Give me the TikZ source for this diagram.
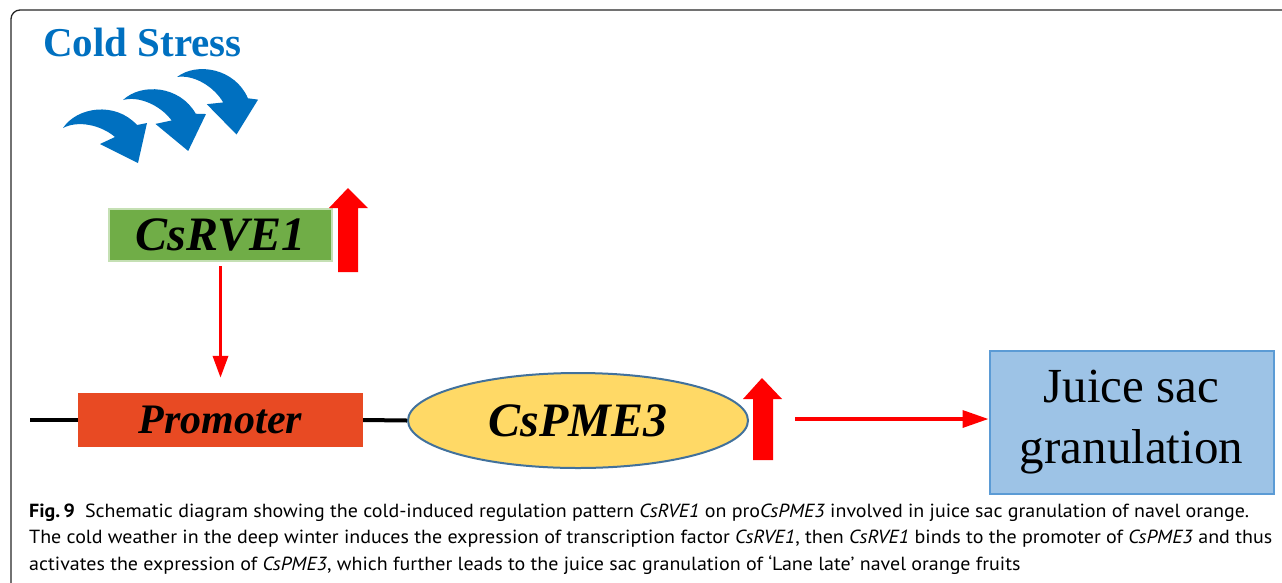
\documentclass[tikz,border=0pt]{standalone}
\usepackage{fontspec}
\usepackage{graphicx}
\setmainfont{Liberation Serif}
\newfontfamily\capfont{PT Sans}
\usetikzlibrary{arrows.meta,shapes.geometric}
\definecolor{coldblue}{HTML}{0070C0}
\definecolor{rvefill}{HTML}{70AD47}
\definecolor{rveline}{HTML}{C5E0B4}
\definecolor{promfill}{HTML}{E84A23}
\definecolor{pmefill}{HTML}{FFD966}
\definecolor{pmeline}{HTML}{41719C}
\definecolor{juicefill}{HTML}{9DC3E6}
\definecolor{juiceline}{HTML}{5B9BD5}
\definecolor{upred}{HTML}{FF0000}
\newsavebox\capmeasure
\newdimen\capwidth
\newcommand\capsetfont{\capfont\fontsize{19}{23}\selectfont}
\newcommand\capltwo{The cold weather in the deep winter induces the expression of transcription factor \textit{CsRVE1}, then \textit{CsRVE1} binds to the promoter of \textit{CsPME3} and thus}
\AtBeginDocument{%
  \global\setbox\capmeasure=\hbox{\capsetfont\capltwo}%
  \global\capwidth=\wd\capmeasure
  \pgfmathsetmacro\capsxtmp{1243/\capwidth}%
  \global\let\capsx\capsxtmp}
\tikzset{
  genebox/.style={rectangle, inner sep=0pt, font=\fontsize{48}{58}\selectfont\bfseries\itshape},
  rvebox/.style={genebox, fill=rvefill, draw=rveline, line width=2.5pt, minimum width=223pt, minimum height=52pt},
  prombox/.style={genebox, fill=promfill, minimum width=285pt, minimum height=54pt, font=\fontsize{42}{50}\selectfont\bfseries\itshape},
  pmeell/.style={ellipse, inner sep=0pt, fill=pmefill, draw=pmeline, line width=2pt, minimum width=340pt, minimum height=95pt, font=\fontsize{48}{58}\selectfont\bfseries\itshape},
  juicebox/.style={rectangle, inner sep=0pt, fill=juicefill, draw=juiceline, line width=2pt, minimum width=284pt, minimum height=143pt, align=center, font=\fontsize{49}{61}\selectfont},
  dnaline/.style={line width=4pt, black},
  redarrow/.style={line width=3.5pt, upred, -{Triangle[length=26pt,width=17pt]}},
  uparrow/.style={fill=upred},
  captext/.style={anchor=base west, inner sep=0pt, font=\capsetfont},
  coldarrow/.pic={\fill[coldblue] (0,0) .. controls (14,-21) and (52,-27) .. (74,-3) -- (84,-5) -- (75,35) -- (37,16) -- (52,9) .. controls (38,-3) and (15,-8) .. (0,0);}
}
\begin{document}
\begin{tikzpicture}[x=1pt,y=-1pt]
\useasboundingbox (0,0) rectangle (1282,582);
\begin{scope}
\clip (0,0) rectangle (1282,582);
\draw[line width=1.3pt, black!85, rounded corners=9pt] (11,10) rectangle (1300,592);
\end{scope}
% title
\node[anchor=base west, inner sep=0pt, text=coldblue, font=\fontsize{41}{48}\selectfont\bfseries] (title) at (43,56) {Cold Stress};
% curved arrows
\pic at (63,128) {coldarrow};
\pic[rotate=-13] at (123,100) {coldarrow};
\pic[rotate=-19] at (177,77) {coldarrow};
% nodes
\node[rvebox] (rve) at (220.5,235) {CsRVE1};
\node[prombox] (prom) at (220.5,420) {Promoter};
\node[pmeell] (pme) at (578,420.5) {CsPME3};
\node[juicebox] (juice) at (1131.5,422) {Juice sac\\granulation};
% DNA line
\coordinate (dnastart) at (30,420);
\draw[dnaline] (dnastart) -- (prom.west);
\draw[dnaline] (prom.east) -- (pme.west);
% up arrows
\fill[uparrow] (348,188) -- (368,208) -- (358,208) -- (358,272) -- (338,272) -- (338,208) -- (329,208) -- cycle;
\fill[uparrow] (762,378) -- (782,399) -- (773,399) -- (773,460) -- (753,460) -- (753,399) -- (743,399) -- cycle;
% connectors
\draw[redarrow, -{Triangle[length=22pt,width=15pt]}, shorten <=4pt, shorten >=15pt] (rve.south) -- (prom.north);
\coordinate (hstart) at (795,419);
\draw[redarrow] (hstart) -- (juice.west |- hstart);
% caption
\node[captext] (cap1) at (29,517) {\scalebox{\capsx}[1]{\textbf{Fig.\,9}\enspace Schematic diagram showing the cold-induced regulation pattern \textit{CsRVE1} on pro\textit{CsPME3} involved in juice sac granulation of navel orange.}};
\node[captext] (cap2) at (29,543.5) {\scalebox{\capsx}[1]{\capltwo}};
\node[captext] (cap3) at (29,570) {\scalebox{\capsx}[1]{activates the expression of \textit{CsPME3}, which further leads to the juice sac granulation of ‘Lane late’ navel orange fruits}};
\end{tikzpicture}
\end{document}
